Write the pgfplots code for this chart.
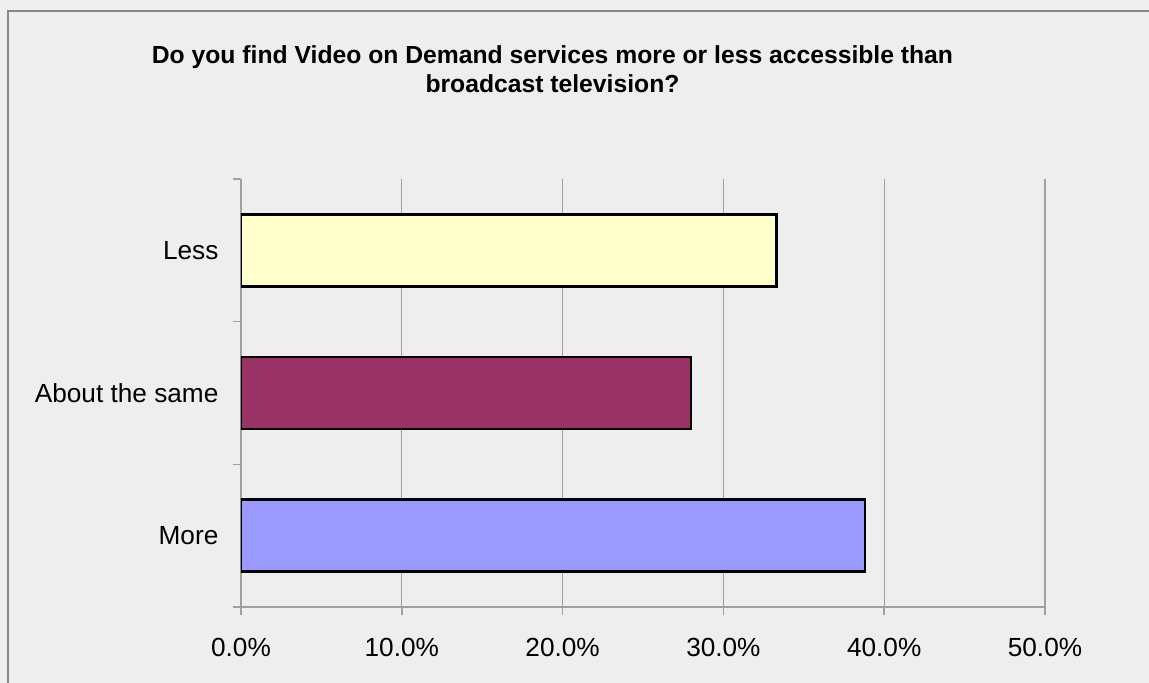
\documentclass[border=0pt]{standalone}
\usepackage{pgfplots}
\pgfplotsset{compat=1.18}
\usepackage{fontspec}
\setmainfont{Liberation Sans}

\definecolor{bg}{HTML}{EEEEEE}
\definecolor{framegray}{HTML}{888888}
\definecolor{gridgray}{HTML}{A0A0A0}
\definecolor{lessfill}{HTML}{FFFFCC}
\definecolor{samefill}{HTML}{993366}
\definecolor{morefill}{HTML}{9999FF}

\begin{document}
\begin{tikzpicture}
% chart area (1px = 0.5bp), frame only on the left and top
\useasboundingbox (-120.5bp,-38bp) rectangle (454bp,303.5bp);
\clip (-120.5bp,-38bp) rectangle (454bp,303.5bp);
\fill[bg] (-121bp,-39bp) rectangle (455bp,304bp);
\draw[framegray, line width=1bp] (-116.25bp,-40bp) -- (-116.25bp,298bp) -- (460bp,298bp);

\begin{axis}[
    at={(0,0)}, anchor=south west,
    scale only axis,
    width=402bp, height=214bp,
    xbar, bar width=36bp, bar shift=0pt,
    xmin=0, xmax=50,
    ymin=-0.5, ymax=2.5,
    xtick={0,10,...,50},
    scaled ticks=false,
    /pgf/number format/assume math mode=true,
    xticklabel={\pgfmathprintnumber[fixed,fixed zerofill,precision=1]{\tick}\%},
    ytick={-0.5,0.5,1.5,2.5},
    yticklabels={},
    extra y ticks={0,1,2},
    extra y tick labels={More,About the same,Less},
    extra y tick style={major tick length=0pt},
    axis lines*=left,
    axis line style={gridgray, line width=0.75bp},
    tick align=outside,
    major tick length=4bp,
    tick style={gridgray, line width=0.75bp},
    xmajorgrids,
    grid style={gridgray, line width=0.6bp},
    ticklabel style={font=\fontsize{13.1bp}{15bp}\selectfont},
    xticklabel style={anchor=base, yshift=-20.65bp},
    yticklabel style={anchor=east, xshift=-7.8bp},
]
\addplot[fill=morefill, draw=black, line width=1.2bp] coordinates {(38.8,0)};
\addplot[fill=samefill, draw=black, line width=1.2bp] coordinates {(28.0,1)};
\addplot[fill=lessfill, draw=black, line width=1.2bp] coordinates {(33.3,2)};
\end{axis}

\node[anchor=base, font=\fontsize{12.35bp}{14bp}\selectfont\bfseries] at (155.75bp,271.85bp)
    {Do you find Video on Demand services more or less accessible than};
\node[anchor=base, font=\fontsize{12.35bp}{14bp}\selectfont\bfseries] at (155.75bp,257.15bp)
    {broadcast television?};
\end{tikzpicture}
\end{document}
